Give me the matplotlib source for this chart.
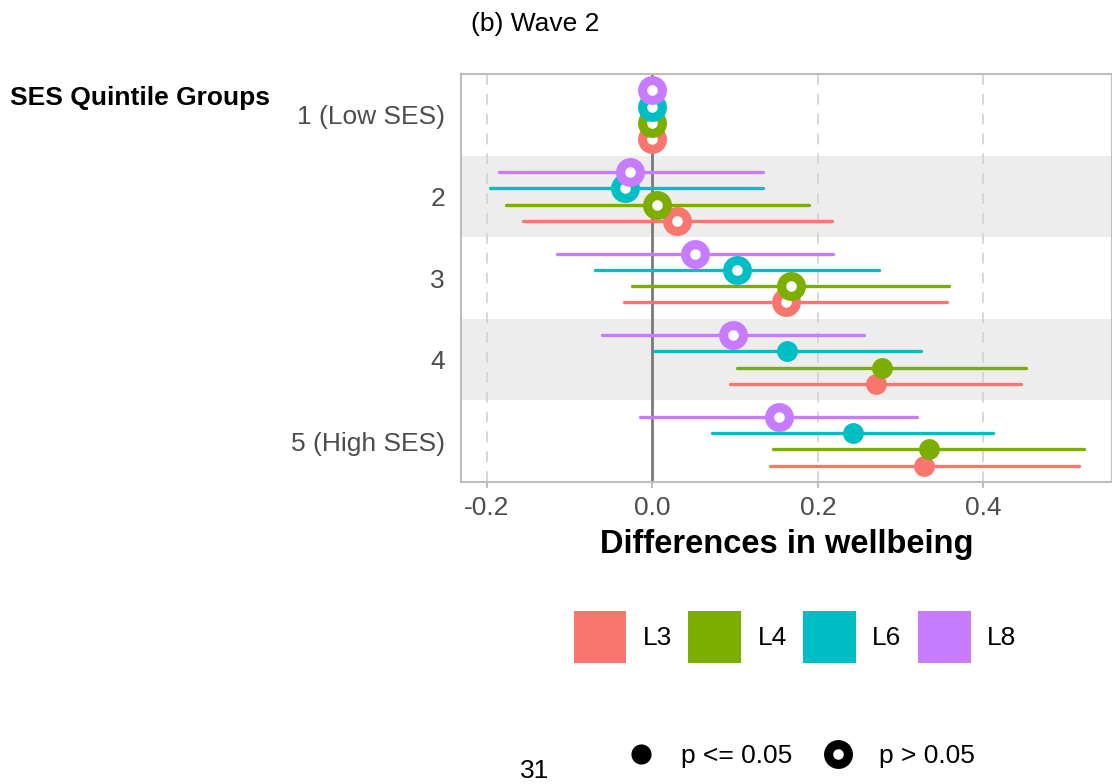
import numpy as np
import matplotlib
matplotlib.use("Agg")
import matplotlib.pyplot as plt
from matplotlib.patches import Patch
from matplotlib.lines import Line2D

plt.rcParams["font.family"] = ["Liberation Sans", "DejaVu Sans"]

# ===== DATA =====
groups = ["1 (Low SES)", "2", "3", "4", "5 (High SES)"]
models = ["L3", "L4", "L6", "L8"]
colors = ["#F8766D", "#7CAE00", "#00BFC4", "#C77CFF"]

est = {
    "L3": [0.0, 0.030, 0.161, 0.270, 0.328],
    "L4": [0.0, 0.006, 0.167, 0.278, 0.334],
    "L6": [0.0, -0.033, 0.102, 0.163, 0.242],
    "L8": [0.0, -0.027, 0.051, 0.097, 0.153],
}
lo = {
    "L3": [np.nan, -0.157, -0.035, 0.094, 0.142],
    "L4": [np.nan, -0.177, -0.025, 0.102, 0.146],
    "L6": [np.nan, -0.196, -0.070, 0.002, 0.072],
    "L8": [np.nan, -0.185, -0.116, -0.061, -0.015],
}
hi = {
    "L3": [np.nan, 0.217, 0.356, 0.446, 0.516],
    "L4": [np.nan, 0.189, 0.358, 0.452, 0.522],
    "L6": [np.nan, 0.133, 0.274, 0.324, 0.412],
    "L8": [np.nan, 0.133, 0.218, 0.256, 0.320],
}
signif = {
    "L3": [False, False, False, True, True],
    "L4": [False, False, False, True, True],
    "L6": [False, False, False, True, True],
    "L8": [False, False, False, False, False],
}
xticks = [-0.2, 0.0, 0.2, 0.4]

# ===== FIGURE =====
W, H = 1112, 784
fig = plt.figure(figsize=(W / 100, H / 100), dpi=100)
ax = fig.add_axes([461 / W, 1 - 482 / H, (W - 461) / W, (482 - 74) / H])

ax.set_xlim(-0.2315, 0.5555)
ax.set_ylim(len(groups) + 0.5, 0.5)

# shaded bands for even groups
for i in range(len(groups)):
    if i % 2 == 1:
        ax.axhspan(i + 0.5, i + 1.5, color="#ededed", lw=0, zorder=0)

# dashed grid + zero line
for xv in xticks:
    if xv != 0:
        ax.axvline(xv, color="#d4d4d4", lw=1.3, ls=(0, (6, 5)), zorder=1)
ax.axvline(0, color="#7a7a7a", lw=2.0, zorder=2)

# dodge: first model at the bottom of each group, last at the top
ypos = np.arange(1, len(groups) + 1)
n = len(models)
for k, m in enumerate(models):
    off = 0.4 - (k + 0.5) * 0.8 / n
    yy = ypos + off
    z = 3 + k
    ax.hlines(yy, lo[m], hi[m], color=colors[k], lw=2.4, capstyle="round", zorder=z)
    e = np.array(est[m])
    s = np.array(signif[m])
    ax.plot(e[s], yy[s], "o", ms=15, color=colors[k], mec=colors[k], mew=0, zorder=z + 0.5)
    ax.plot(e[~s], yy[~s], "o", ms=14.2, mfc="white", mec=colors[k], mew=6.6, zorder=z + 0.5)

# axes styling
for sp in ax.spines.values():
    sp.set_color("#bdbdbd")
    sp.set_linewidth(1.5)
ax.set_xticks(xticks)
ax.set_xticklabels(["-0.2", "0.0", "0.2", "0.4"])
ax.set_yticks(ypos)
ax.set_yticklabels(groups)
ax.tick_params(axis="x", length=4, width=1.2, color="#b3b3b3", labelsize=19,
               labelcolor="#4d4d4d", pad=6)
ax.tick_params(axis="y", length=0, labelsize=19, labelcolor="#4d4d4d", pad=11.5)

# ===== TEXTS =====
fig.text(471 / W, 1 - 24 / H, "(b) Wave 2", fontsize=19, ha="left", va="center")
fig.text(10 / W, 1 - 98 / H, "SES Quintile Groups", fontsize=19, fontweight="bold",
         ha="left", va="center")
fig.text((461 + W) / 2 / W, 1 - 545 / H, "Differences in wellbeing", fontsize=23.5,
         fontweight="bold", ha="center", va="center")
fig.text(535 / W, 1 - 771 / H, "31", fontsize=19, ha="center", va="center")

# ===== LEGENDS =====
handles = [Patch(facecolor=c, edgecolor="none") for c in colors]
fig.legend(handles, models, loc="center", bbox_to_anchor=(795 / W, 1 - 637 / H),
           ncol=4, frameon=False, fontsize=19, handlelength=2.0, handleheight=2.65,
           handletextpad=0.62, columnspacing=0.62, borderpad=0)

pt_handles = [
    Line2D([], [], ls="none", marker="o", ms=14.5, color="black", mew=0),
    Line2D([], [], ls="none", marker="o", ms=14.2, mfc="white", mec="black", mew=6.6),
]
fig.legend(pt_handles, ["p <= 0.05", "p > 0.05"], loc="center",
           bbox_to_anchor=(797 / W, 1 - 756 / H), ncol=2, frameon=False, fontsize=19,
           handlelength=1.6, handletextpad=0.75, columnspacing=0.91, borderpad=0)

fig.savefig("out.png", dpi=100)
